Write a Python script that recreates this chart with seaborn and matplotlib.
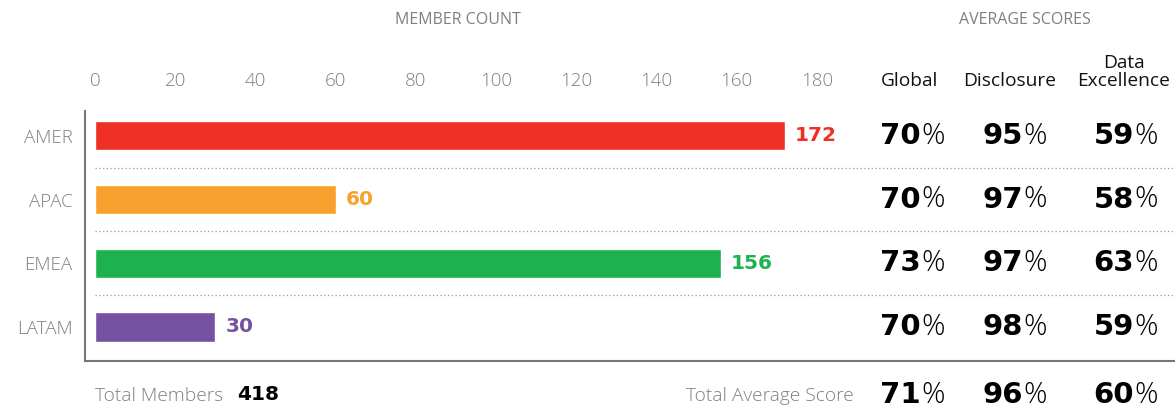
import matplotlib
matplotlib.use("Agg")
import matplotlib.pyplot as plt
import matplotlib.transforms as mtransforms
import seaborn as sns
import pandas as pd

# ---- data ----
regions = ["AMER", "APAC", "EMEA", "LATAM"]
members = [172, 60, 156, 30]
colors = ["#EE3124", "#F9A12E", "#1DB150", "#7651A1"]
global_scores = [70, 70, 73, 70]
disclosure_scores = [95, 97, 97, 98]
excellence_scores = [59, 58, 63, 59]
total_members = 418
total_scores = [71, 96, 60]
score_headers = ["Global", "Disclosure", "Data\nExcellence"]
x_ticks = [0, 20, 40, 60, 80, 100, 120, 140, 160, 180]

sns.set_theme(style="white")
plt.rcParams["font.family"] = ["Open Sans", "DejaVu Sans"]

GRAY = "#7f7f7f"
NUMFONT = ["DejaVu Sans"]
PCTFONT = ["Open Sans", "DejaVu Sans"]

W, H = 1175, 408
fig = plt.figure(figsize=(W / 100, H / 100), dpi=100)
ax = fig.add_axes([85 / W, (H - 361) / H, 1 - 85 / W, (361 - 111) / H])

df = pd.DataFrame({"region": regions, "members": members})
sns.barplot(data=df, x="members", y="region", hue="region", palette=colors,
            orient="h", width=0.46, legend=False, ax=ax, saturation=1)

ax.set_xlim(-2.5, 269.3)
ax.set_ylim(3.535, -0.39)
ax.xaxis.tick_top()
ax.set_xticks(x_ticks)
ax.set_xticklabels([str(t) for t in x_ticks], color=GRAY, fontsize=13.5,
                   fontweight="light")
ax.tick_params(axis="x", length=0, pad=15)
ax.tick_params(axis="y", length=0, pad=9)
for lbl in ax.get_yticklabels():
    lbl.set_color(GRAY)
    lbl.set_fontsize(13.5)
    lbl.set_fontweight("light")
ax.set_xlabel("")
ax.set_ylabel("")
for s in ["top", "right"]:
    ax.spines[s].set_visible(False)
for s in ["left", "bottom"]:
    ax.spines[s].set_color("#777777")
    ax.spines[s].set_linewidth(1.5)

# dotted separators
for i in range(len(regions) - 1):
    ax.plot([0, 269.3], [i + 0.5, i + 0.5], linestyle=(0, (1, 2)),
            color="#999999", linewidth=0.9, clip_on=False)

# bar value labels
for i, (v, c) in enumerate(zip(members, colors)):
    ax.text(v + 2.5, i, str(v), color=c, fontsize=14.5, fontweight="bold",
            family=NUMFONT, va="center", ha="left")

# section titles
fig.text(458 / W, 1 - 20 / H, "MEMBER COUNT", color=GRAY, fontsize=11.5,
         ha="center", va="center")
fig.text(1025 / W, 1 - 20 / H, "AVERAGE SCORES", color=GRAY, fontsize=11.5,
         ha="center", va="center")

# score headers
col_centers = [910, 1010, 1124]
col_splits = [921, 1023, 1134]
for cx, hdr in zip(col_centers, score_headers):
    fig.text(cx / W, 1 - 86 / H, hdr, color="#111111", fontsize=13.8,
             ha="center", va="baseline", linespacing=1.0)

trans = mtransforms.blended_transform_factory(fig.transFigure, ax.transData)
cols = [global_scores, disclosure_scores, excellence_scores]
for sx, vals in zip(col_splits, cols):
    for i, v in enumerate(vals):
        fig.text(sx / W, i, str(v), transform=trans, fontsize=21,
                 fontweight="bold", family=NUMFONT, color="black",
                 ha="right", va="center")
        fig.text(sx / W, i, "%", transform=trans, fontsize=21,
                 fontweight="light", family=PCTFONT, color="black",
                 ha="left", va="center")

# totals
fig.text(95 / W, 1 - 396 / H, "Total Members", color=GRAY, fontsize=13.8,
         fontweight="light", ha="left", va="center")
fig.text(237 / W, 1 - 395 / H, str(total_members), color="black", fontsize=14.5,
         fontweight="bold", family=NUMFONT, ha="left", va="center")
fig.text(854 / W, 1 - 396 / H, "Total Average Score", color=GRAY,
         fontsize=13.8, fontweight="light", ha="right", va="center")
for sx, v in zip(col_splits, total_scores):
    fig.text(sx / W, 1 - 395 / H, str(v), fontsize=21, fontweight="bold",
             family=NUMFONT, color="black", ha="right", va="center")
    fig.text(sx / W, 1 - 395 / H, "%", fontsize=21, fontweight="light",
             family=PCTFONT, color="black", ha="left", va="center")

fig.savefig("out.png", dpi=100)
